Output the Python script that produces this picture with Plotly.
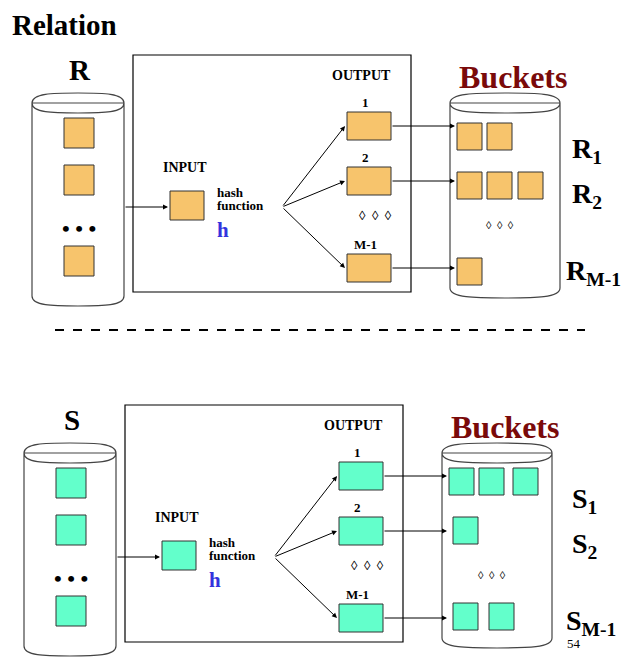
import plotly.graph_objects as go

ORANGE = "#F7C46C"
TEAL = "#63FFCB"
SERIF = "Liberation Serif"

# each panel: (dx, dy, fill colour, relation letter)
panels = [(0, 0, ORANGE, "R"), (-8, 350, TEAL, "S")]
src_boxes = [(64, 118), (64, 165), (64, 246)]
out_boxes = [(347, 112), (347, 167), (347, 254)]
out_labels = ["1", "2", "M-1"]
bucket_rows = [[457, 487], [457, 487, 518], [457]]
bucket_rows_s = [[457, 487, 521], [461], [461, 497]]
bucket_y = [123, 172, 258]
bucket_y_s = [118, 167, 253]
subs = ["1", "2", "M-1"]

fig = go.Figure()
shapes, ann = [], []


def cyl(x0, x1, yt, yb, ry=10):
    xm = (x0 + x1) / 2
    k = 0.55
    w = (x1 - x0) / 2
    p = (f"M {x0},{yt} L {x0},{yb} C {x0},{yb+ry*k*1.8} {xm-w*k},{yb+ry} {xm},{yb+ry} "
         f"C {xm+w*k},{yb+ry} {x1},{yb+ry*k*1.8} {x1},{yb} L {x1},{yt} "
         f"C {x1},{yt+ry*k*1.8} {xm+w*k},{yt+ry} {xm},{yt+ry} "
         f"C {xm-w*k},{yt+ry} {x0},{yt+ry*k*1.8} {x0},{yt} "
         f"C {x0},{yt-ry*k*1.8} {xm-w*k},{yt-ry} {xm},{yt-ry} "
         f"C {xm+w*k},{yt-ry} {x1},{yt-ry*k*1.8} {x1},{yt} Z")
    shapes.append(dict(type="path", path=p, line=dict(color="#444", width=1.2), fillcolor="white", layer="below"))


def box(x, y, w, h, c):
    shapes.append(dict(type="rect", x0=x, x1=x + w, y0=y, y1=y + h, fillcolor=c, line=dict(color="#333", width=1)))


def txt(x, y, s, size, color="black", xanchor="center"):
    ann.append(dict(x=x, y=y, text=s, showarrow=False, xanchor=xanchor,
                    font=dict(family=SERIF, size=size, color=color)))


def arrow(x0, y0, x1, y1):
    ann.append(dict(x=x1, y=y1, ax=x0, ay=y0, axref="x", ayref="y", xref="x", yref="y",
                    text="", showarrow=True, arrowhead=2, arrowsize=1, arrowwidth=1, arrowcolor="black"))


for i, (dx, dy, col, letter) in enumerate(panels):
    rows = bucket_rows if i == 0 else bucket_rows_s
    by = bucket_y if i == 0 else bucket_y_s
    txt(10 + dx, 25 + dy, "<b>Relation</b>", 29, xanchor="left")
    txt(80 + dx, 70 + dy, "<b>%s</b>" % letter, 29)
    cyl(32 + dx, 124 + dx, 103 + dy, 296 + dy)
    for (x, y) in src_boxes:
        box(x + dx, y + dy, 30, 30, col)
    txt(79 + dx, 228 + dy, "<b>• • •</b>", 22)
    arrow(124 + dx, 207 + dy, 168 + dx, 207 + dy)
    shapes.append(dict(type="rect", x0=133 + dx, x1=411 + dx, y0=55 + dy, y1=292 + dy,
                       line=dict(color="black", width=1.2)))
    txt(185 + dx, 167 + dy, "<b>INPUT</b>", 14)
    box(170 + dx, 191 + dy, 34, 29, col)
    txt(215 + dx, 192 + dy, "<b>hash</b>", 13, xanchor="left")
    txt(215 + dx, 205 + dy, "<b>function</b>", 13, xanchor="left")
    txt(223 + dx, 230 + dy, "<b>h</b>", 21, color="#3333DD")
    txt(361 + dx, 75 + dy, "<b>OUTPUT</b>", 14)
    for (x, y), lab in zip(out_boxes, out_labels):
        box(x + dx, y + dy, 44, 28, col)
        txt(365 + dx, y - 10 + dy, "<b>%s</b>" % lab, 13)
        arrow(282 + dx, 207 + dy, x - 2 + dx, y + 14 + dy)
    txt(375 + dx, 215 + dy, "◊  ◊  ◊", 13)
    txt(513 + dx, 77 + dy, "<b>Buckets</b>", 32, color="#7A0A0A")
    cyl(450 + dx, 560 + dx, 103 + dy, 288 + dy)
    for row, y, (ox, oy) in zip(rows, by, out_boxes):
        for x in row:
            box(x + dx, y + dy, 25, 27, col)
        arrow(391 + dx, oy + 14 + dy, 455 + dx, oy + 14 + dy)
    txt(500 + dx, 225 + dy, "◊  ◊  ◊", 11)
    for s, y, xs in zip(subs, [150, 195, 272], [570, 570, 564]):
        txt(xs + dx + 8 * i, y + dy, "<b>%s<sub>%s</sub></b>" % ("R" if i == 0 else "S", s), 28, xanchor="left")

shapes.append(dict(type="line", x0=55, x1=585, y0=330, y1=330, line=dict(color="black", width=2, dash="dash")))
txt(574, 643, "54", 13)

# page adds an 8px body margin, so the axes start at 8
fig.update_layout(shapes=shapes, annotations=ann, width=636, height=659,
                  margin=dict(l=0, r=0, t=0, b=0), plot_bgcolor="white", paper_bgcolor="white",
                  xaxis=dict(range=[8, 644], visible=False, fixedrange=True),
                  yaxis=dict(range=[667, 8], visible=False, fixedrange=True),
                  showlegend=False)
fig.write_html("out.html")
